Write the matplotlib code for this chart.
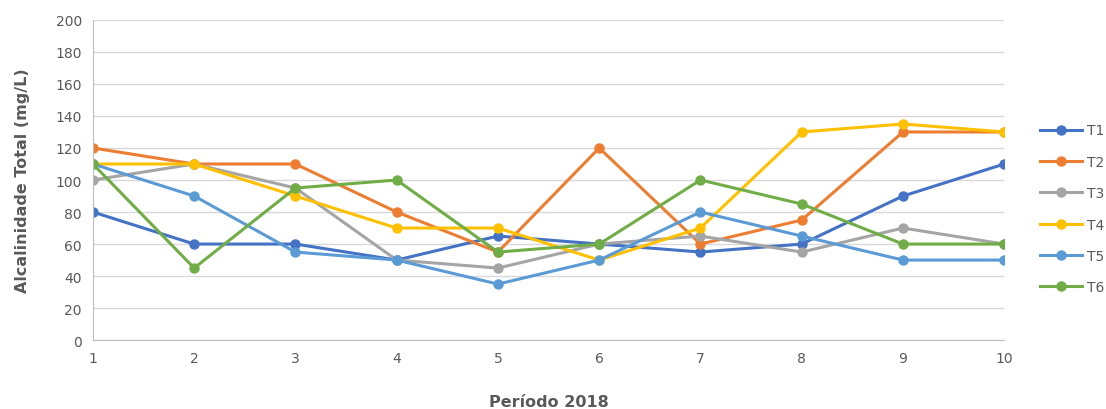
import matplotlib.pyplot as plt

# data
periodos = [1, 2, 3, 4, 5, 6, 7, 8, 9, 10]
t1 = [80, 60, 60, 50, 65, 60, 55, 60, 90, 110]
t2 = [120, 110, 110, 80, 55, 120, 60, 75, 130, 130]
t3 = [100, 110, 95, 50, 45, 60, 65, 55, 70, 60]
t4 = [110, 110, 90, 70, 70, 50, 70, 130, 135, 130]
t5 = [110, 90, 55, 50, 35, 50, 80, 65, 50, 50]
t6 = [110, 45, 95, 100, 55, 60, 100, 85, 60, 60]

series = [('T1', t1, '#4472C4'), ('T2', t2, '#ED7D31'), ('T3', t3, '#A5A5A5'),
          ('T4', t4, '#FFC000'), ('T5', t5, '#5B9BD5'), ('T6', t6, '#70AD47')]

text_color = '#595959'

fig = plt.figure(figsize=(11.06, 4.10), dpi=100)
ax = fig.add_axes([0.084, 0.168, 0.824, 0.781])

for name, vals, color in series:
    ax.plot(periodos, vals, color=color, linewidth=2.2, marker='o',
            markersize=6.5, label=name)

ax.set_xlim(1, 10)
ax.set_ylim(0, 200)
ax.set_xticks(periodos)
ax.set_yticks(range(0, 201, 20))
ax.grid(axis='y', color='#D9D9D9', linewidth=1)
ax.set_axisbelow(True)

for side in ['top', 'right']:
    ax.spines[side].set_visible(False)
for side in ['left', 'bottom']:
    ax.spines[side].set_color('#BFBFBF')
ax.tick_params(length=0, colors=text_color, labelsize=10, pad=8)

ax.set_ylabel('Alcalinidade Total (mg/L)', fontsize=11.5, fontweight='bold',
              color=text_color, labelpad=18)
ax.set_xlabel('Período 2018', fontsize=11.5, fontweight='bold',
              color=text_color, labelpad=21)

ax.legend(loc='center left', bbox_to_anchor=(1.026, 0.41), frameon=False,
          fontsize=10, labelcolor=text_color, handlelength=3.0,
          labelspacing=1.25, handletextpad=0.35)

fig.savefig('out.png', dpi=100)
